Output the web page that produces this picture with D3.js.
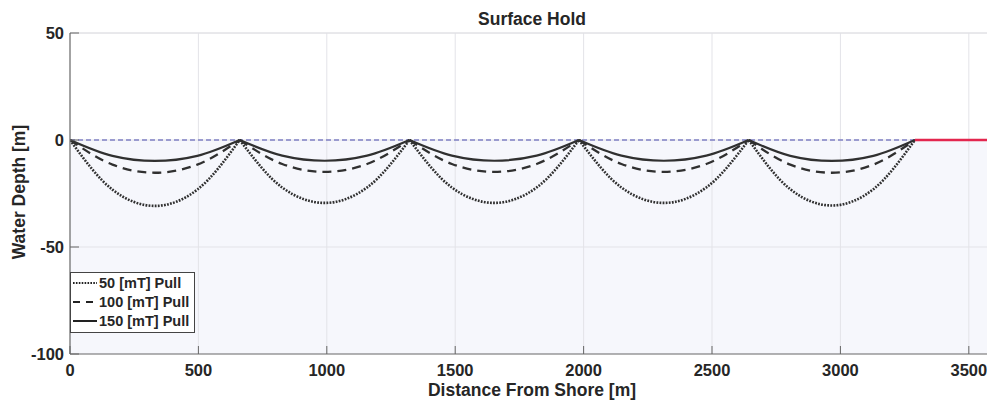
<!DOCTYPE html>
<html><head><meta charset="utf-8">
<script src="https://cdn.jsdelivr.net/npm/d3@7"></script>
<style>
body{margin:0;background:#fff;}
text{font-family:"Liberation Sans",Arial,sans-serif;font-weight:bold;fill:#262626;}
</style></head>
<body><svg id="c" width="987" height="403"></svg>
<script>
// ---- data ----
const title = "Surface Hold";
const xLabel = "Distance From Shore [m]";
const yLabel = "Water Depth [m]";
const xTicks = [0, 500, 1000, 1500, 2000, 2500, 3000, 3500];
const yTicks = [-100, -50, 0, 50];
// support points (span boundaries) along the tow route [m]
const spanEnds = [0, 661, 1322, 1982, 2643, 3290];
// depth at 1/4, 1/2, 3/4 of each span [m]
const pull50  = [[-23.2,-30.8,-23.2],[-22.2,-29.4,-22.2],[-22.2,-29.4,-22.2],[-22.2,-29.4,-22.2],[-23.0,-30.6,-23.0]];
const pull100 = [[-11.5,-15.3,-11.5],[-11.2,-14.9,-11.2],[-11.2,-14.9,-11.2],[-11.2,-14.9,-11.2],[-11.5,-15.3,-11.5]];
const pull150 = [[-7.4,-9.8,-7.4],[-7.3,-9.7,-7.3],[-7.3,-9.7,-7.3],[-7.3,-9.7,-7.3],[-7.4,-9.8,-7.4]];
const surfaceLine = [[3290, 0], [3600, 0]];
const seriesNames = ["50 [mT] Pull", "100 [mT] Pull", "150 [mT] Pull"];

// ---- chart ----
const svg = d3.select("#c");
const L = 70, R = 994.5, T = 33, B = 354;
const x = d3.scaleLinear().domain([0, 3600]).range([L, R]);
const y = d3.scaleLinear().domain([-100, 50]).range([B, T]);

svg.append("defs").append("clipPath").attr("id","clip")
  .append("rect").attr("x",L).attr("y",T-2).attr("width",987-L).attr("height",B-T+4);

// water fill
svg.append("rect").attr("x",L).attr("y",y(0)).attr("width",987-L).attr("height",y(-100)-y(0))
  .attr("fill","#f6f7fc");

// grid
const g = svg.append("g").attr("clip-path","url(#clip)");
g.selectAll(".vg").data(xTicks.filter(d=>d>0)).enter().append("line")
  .attr("x1",d=>x(d)).attr("x2",d=>x(d)).attr("y1",T).attr("y2",B)
  .attr("stroke","#e3e3e8").attr("stroke-width",1);
g.selectAll(".hg").data(yTicks.filter(d=>d>-100)).enter().append("line")
  .attr("x1",L).attr("x2",987).attr("y1",d=>y(d)).attr("y2",d=>y(d))
  .attr("stroke","#e3e3e8").attr("stroke-width",1);

// water surface dashed line
g.append("line").attr("x1",L).attr("x2",987).attr("y1",y(0)).attr("y2",y(0))
  .attr("stroke","#7f80c4").attr("stroke-width",1.3).attr("stroke-dasharray","5,3");

// curves
const line = d3.line().x(d=>x(d[0])).y(d=>y(d[1])).curve(d3.curveMonotoneX);
function spanPoints(vals, i){
  const a = spanEnds[i], b = spanEnds[i+1];
  const fr = [0.25, 0.5, 0.75];
  return [[a,0]].concat(vals.map((v,k)=>[a+(b-a)*fr[k], v])).concat([[b,0]]);
}
const styles = [
  {data: pull50,  dash: "1.8,1.3", w: 2.6},
  {data: pull100, dash: "9,6",     w: 2.3},
  {data: pull150, dash: null,      w: 2.2}
];
styles.forEach(s=>{
  s.data.forEach((vals,i)=>{
    const p = g.append("path").attr("d", line(spanPoints(vals,i)))
      .attr("fill","none").attr("stroke","#303030").attr("stroke-width",s.w);
    if (s.dash) p.attr("stroke-dasharray", s.dash);
  });
});

// red surface segment
g.append("path").attr("d", d3.line().x(d=>x(d[0])).y(d=>y(d[1]))(surfaceLine))
  .attr("fill","none").attr("stroke","#e3264e").attr("stroke-width",2.6);

// axes
svg.append("line").attr("x1",L).attr("x2",987).attr("y1",T).attr("y2",T)
  .attr("stroke","#e0e0e4").attr("stroke-width",1);
svg.append("line").attr("x1",L).attr("x2",L).attr("y1",T).attr("y2",B)
  .attr("stroke","#666").attr("stroke-width",1.2);
svg.append("line").attr("x1",L).attr("x2",987).attr("y1",B).attr("y2",B)
  .attr("stroke","#666").attr("stroke-width",1.2);

// ticks
svg.selectAll(".xt").data(xTicks).enter().append("line")
  .attr("x1",d=>x(d)).attr("x2",d=>x(d)).attr("y1",B).attr("y2",B-8)
  .attr("stroke","#666").attr("stroke-width",1);
svg.selectAll(".yt").data(yTicks).enter().append("line")
  .attr("x1",L).attr("x2",L+9).attr("y1",d=>y(d)).attr("y2",d=>y(d))
  .attr("stroke","#666").attr("stroke-width",1);

svg.selectAll(".xl").data(xTicks).enter().append("text")
  .attr("x",d=>x(d)).attr("y",376).attr("text-anchor","middle")
  .attr("font-size","16.5px").text(d=>d);
svg.selectAll(".yl").data(yTicks).enter().append("text")
  .attr("x",64).attr("y",d=>y(d)+6).attr("text-anchor","end")
  .attr("font-size","16.5px").text(d=>d);

// titles
svg.append("text").attr("x",532).attr("y",25).attr("text-anchor","middle")
  .attr("font-size","17.5px").text(title);
svg.append("text").attr("x",532).attr("y",396).attr("text-anchor","middle")
  .attr("font-size","17.5px").text(xLabel);
svg.append("text").attr("transform","translate(25,192) rotate(-90)").attr("text-anchor","middle")
  .attr("font-size","17.5px").text(yLabel);

// legend
const lg = svg.append("g");
lg.append("rect").attr("x",70.5).attr("y",272.5).attr("width",124).attr("height",60)
  .attr("fill","#fff").attr("stroke","#444").attr("stroke-width",1);
const lgDash = ["1.6,1.3", "7,6", null];
seriesNames.forEach((n,i)=>{
  const yy = 283 + i*19;
  const ln = lg.append("line").attr("x1",73).attr("x2",97).attr("y1",yy).attr("y2",yy)
    .attr("stroke","#222").attr("stroke-width",2);
  if (lgDash[i]) ln.attr("stroke-dasharray", lgDash[i]);
  lg.append("text").attr("x",99).attr("y",yy+5).attr("font-size","14.5px").text(n);
});
</script></body></html>
